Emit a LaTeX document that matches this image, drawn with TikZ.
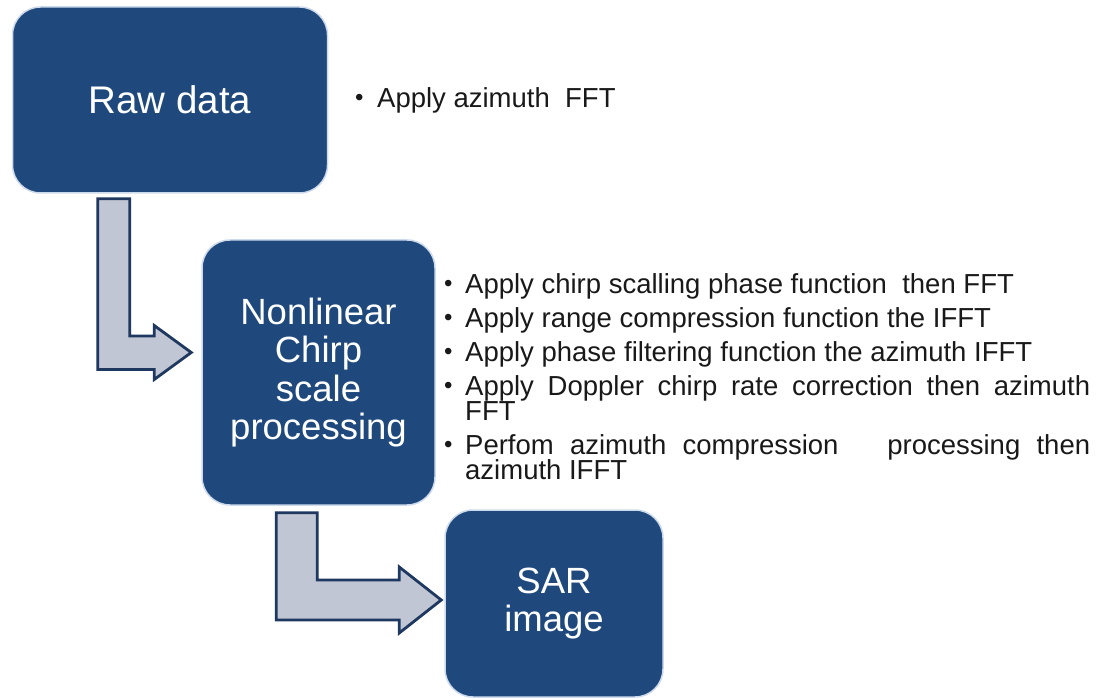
\documentclass[tikz,border=0pt]{standalone}
\usepackage{fontspec}
\setmainfont{Liberation Sans}
\usetikzlibrary{calc}
\definecolor{boxblue}{RGB}{31,73,125}
\definecolor{boxedge}{RGB}{205,218,236}
\definecolor{arrowfill}{RGB}{192,198,211}
\definecolor{arrowedge}{RGB}{31,56,96}
\definecolor{txt}{RGB}{25,25,25}
\newcommand\bulmark[1]{\makebox[#1][l]{\raisebox{2.5pt}{\fontsize{24}{24}\selectfont •}}}
\begin{document}
\begin{tikzpicture}[x=1pt,y=-1pt,
  blockbox/.style={fill=boxblue, draw=boxedge, line width=1.5pt, rounded corners=28pt,
    text=white, align=center, font=\fontsize{36.5}{38.5}\selectfont, inner sep=0pt},
  blockarrow/.style={fill=arrowfill, draw=arrowedge, line width=2.8pt, line join=miter},
  note/.style={text=txt, font=\fontsize{27.5}{25}\selectfont, inner sep=0pt}]
\fill[white] (0,0) rectangle (1103,700);
\useasboundingbox (0,0) rectangle (1103,700);
% boxes
\node[blockbox, minimum width=315pt, minimum height=186pt, font=\fontsize{38.5}{40}\selectfont] (raw) at (170,100) {Raw data};
\node[blockbox, minimum width=233pt, minimum height=265pt] (nl) at (318.5,372.5) {Nonlinear\\Chirp\\scale\\processing};
\node[blockbox, minimum width=218pt, minimum height=187pt] (sar) at (554,603.5) {SAR\\image};
% block arrows
\coordinate (t1) at ($(nl.west)+(-10,-20)$);
\coordinate (t2) at ($(sar.west)+(-3,-3.5)$);
\draw[blockarrow] (t1) -- ++(-37,27) -- ++(0,-10) -| ($(raw.south west)+(86,5)$)
  -- ++(32,0) |- ($(t1)+(-37,-16.5)$) -- ++(0,-10.5) -- cycle;
\draw[blockarrow] (t2) -- ++(-42,33) -- ++(0,-13) -| ($(nl.south west)+(75,7)$)
  -- ++(41,0) |- ($(t2)+(-42,-20)$) -- ++(0,-13) -- cycle;
% notes
\node[note, anchor=base west] (n0) at (355,108) {\bulmark{22pt}Apply azimuth~~FFT};
\node[note, anchor=north west, text width=646pt, align=justify] (n1) at (444,273.5) {%
  \setlength\parindent{0pt}\setlength\parskip{9pt}\lineskiplimit=-100pt
  \hyphenpenalty=10000 \exhyphenpenalty=10000
  \hangindent=21pt\hangafter=1\bulmark{21pt}Apply chirp scalling phase function~~then FFT\par
  \hangindent=21pt\hangafter=1\bulmark{21pt}Apply range compression function the IFFT\par
  \hangindent=21pt\hangafter=1\bulmark{21pt}Apply phase filtering function the azimuth IFFT\par
  \hangindent=21pt\hangafter=1\bulmark{21pt}Apply Doppler chirp rate correction then azimuth FFT\par
  \hangindent=21pt\hangafter=1\bulmark{21pt}Perfom azimuth compression~~ processing then azimuth IFFT\par};
\end{tikzpicture}
\end{document}
